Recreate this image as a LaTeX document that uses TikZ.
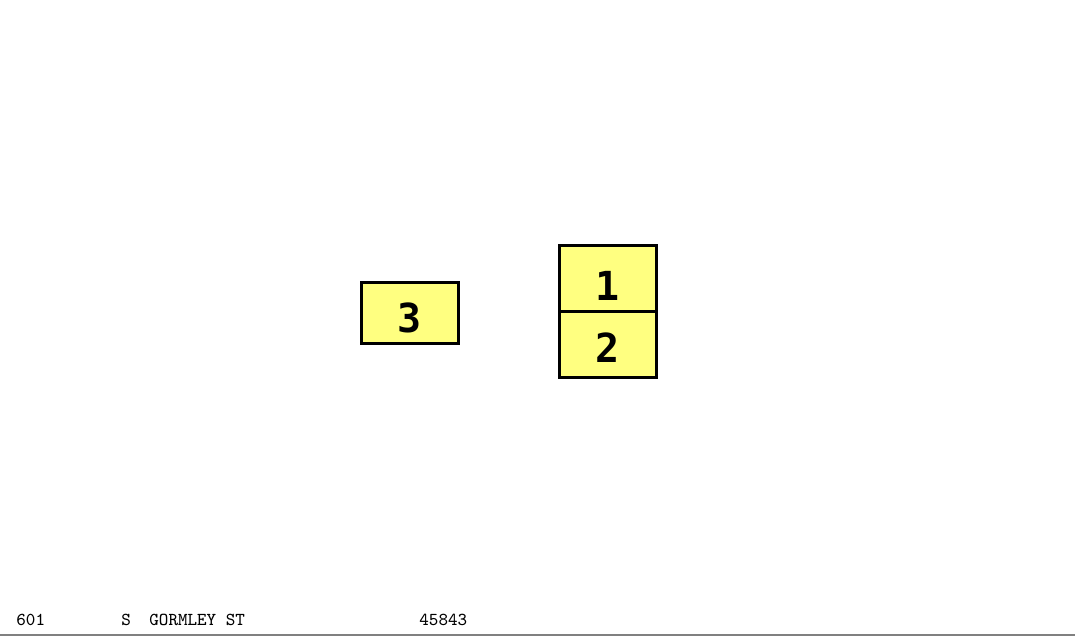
\documentclass[tikz,border=0pt]{standalone}
\usepackage{fontspec}
\setmainfont{Liberation Serif}
\newfontfamily\lotfont{DejaVu Sans Mono}
\usetikzlibrary{positioning}

\definecolor{lotyellow}{RGB}{255,255,128}
\definecolor{rulegray}{RGB}{128,128,128}

\begin{document}
\begin{tikzpicture}[
    x=0.5pt, y=0.5pt,
    lot/.style={draw, line width=1.5pt, fill=lotyellow, outer sep=0pt, inner sep=0pt,
      minimum width=48.5pt, minimum height=33pt, text depth=0pt,
      font=\lotfont\fontsize{20}{20}\selectfont\bfseries},
    addr/.style={anchor=base west, inner sep=0pt, font=\ttfamily\fontsize{9.1}{9.1}\selectfont},
  ]
    \useasboundingbox (0,0) rectangle (1078,637);

    % lots
    \node[lot, minimum height=30.5pt, text height=20pt] (lot3) at (410,324) {3};
    \node[lot, text height=22pt] (lot1) at (607.5,358.5) {1};
    \node[lot, below=0pt of lot1, text height=18pt] (lot2) {2};

    % address line
    \node[addr] (num)    at (16,11)  {601};
    \node[addr] (dir)    at (121,11) {S};
    \node[addr] (street) at (149,11) {GORMLEY ST};
    \node[addr] (code)   at (419,11) {45843};

    \coordinate (ruleL) at (0,2);
    \coordinate (ruleR) at (1075,2);
    \draw[rulegray, line width=0.6pt] (ruleL) -- (ruleR);
\end{tikzpicture}
\end{document}
